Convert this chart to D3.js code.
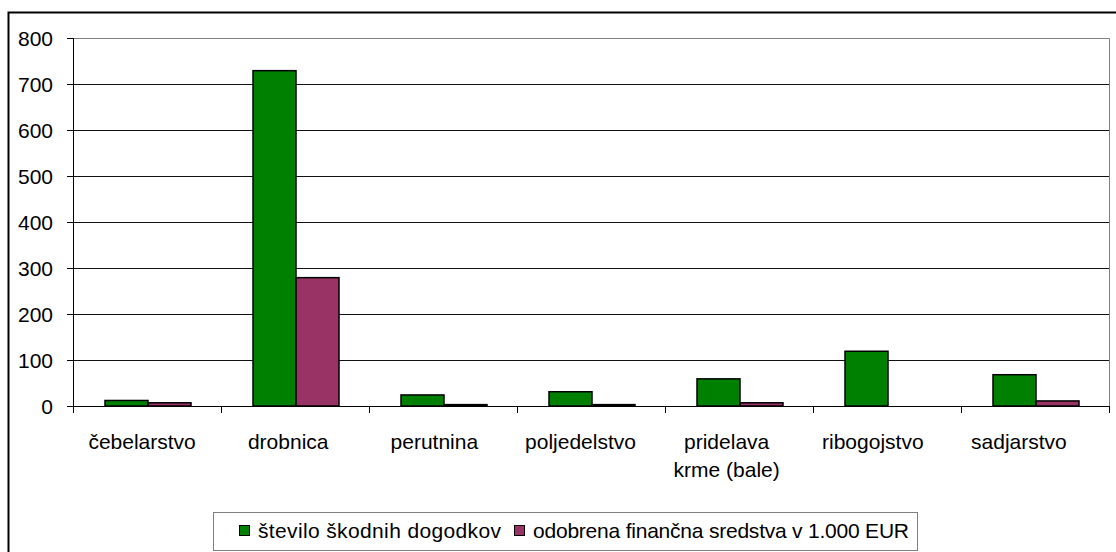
<!DOCTYPE html>
<html>
<head>
<meta charset="utf-8">
<script src="https://cdn.jsdelivr.net/npm/d3@7"></script>
<style>
  body { margin: 0; background: #fff; }
  svg text { font-family: "Liberation Sans", Arial, sans-serif; fill: #000; }
</style>
</head>
<body>
<div id="chart"></div>
<script>
var categories = ["čebelarstvo", "drobnica", "perutnina", "poljedelstvo", "pridelava\nkrme (bale)", "ribogojstvo", "sadjarstvo"];
var seriesNames = ["število škodnih dogodkov", "odobrena finančna sredstva v 1.000 EUR"];
var dogodki = [12, 729, 24, 31, 59, 119, 68];
var sredstva = [7, 279, 3, 3, 7, 0, 11];
var yTicks = [0, 100, 200, 300, 400, 500, 600, 700, 800];
var colors = ["#008000", "#993366"];

var W = 1116, H = 552;
var margin = { top: 38, right: 6, bottom: 146, left: 74 };
var width = W - margin.left - margin.right;
var height = H - margin.top - margin.bottom;

var svg = d3.select("#chart").append("svg")
    .attr("width", W)
    .attr("height", H);

// outer chart border
svg.append("rect")
    .attr("x", 8.5).attr("y", 12.5)
    .attr("width", 1120).attr("height", 560)
    .attr("fill", "none")
    .attr("stroke", "#000")
    .attr("stroke-width", 2);

var g = svg.append("g")
    .attr("transform", "translate(" + margin.left + "," + margin.top + ")");

var x = d3.scaleBand().domain(categories).range([0, width]);
// category labels sit on a slightly tighter spacing than the bars
var xl = d3.scaleBand().domain(categories).range([-5, width - 18]);
var y = d3.scaleLinear().domain([0, 800]).range([height, 0]);
var barW = x.bandwidth() * 43 / 148;
var pad = x.bandwidth() * 31 / 148;

// grid lines
g.selectAll(".grid")
    .data(yTicks.filter(function (d) { return d > 0 && d < 800; }))
    .enter().append("line")
    .attr("x1", 0).attr("x2", width)
    .attr("y1", function (d) { return Math.round(y(d)) + 0.5; })
    .attr("y2", function (d) { return Math.round(y(d)) + 0.5; })
    .attr("stroke", "#111");

// plot area border (top + right)
g.append("path")
    .attr("d", "M0," + (Math.round(y(800)) + 0.5) + "H" + (width - 0.5) + "V" + height)
    .attr("fill", "none")
    .attr("stroke", "#808080");

// bars
var series = [dogodki, sredstva];
series.forEach(function (vals, si) {
    g.selectAll(".bar" + si)
        .data(vals)
        .enter().append("rect")
        .attr("x", function (d, i) { return x(categories[i]) + pad + si * barW; })
        .attr("y", function (d) { return y(d); })
        .attr("width", barW)
        .attr("height", function (d) { return height - y(d); })
        .attr("fill", colors[si])
        .attr("stroke", "#000")
        .attr("stroke-width", 1.5)
        .style("display", function (d) { return d > 0 ? null : "none"; });
});

// y axis
var yAxis = g.append("g")
    .call(d3.axisLeft(y).tickValues(yTicks).tickSize(7).tickPadding(14));
yAxis.select(".domain").attr("stroke", "#000").attr("d", "M-0.5," + height + "V" + y(800));
yAxis.selectAll("line").attr("stroke", "#000");
yAxis.selectAll("text").style("font-size", "21px").attr("dy", "0.36em");

// x axis
var xAxis = g.append("g")
    .attr("transform", "translate(0," + height + ")")
    .call(d3.axisBottom(x).tickSize(0).tickFormat(""));
xAxis.select(".domain").attr("stroke", "#000").attr("d", "M-7,0.5H" + width);
xAxis.selectAll(".tick").remove();

g.selectAll(".xtick")
    .data(d3.range(categories.length + 1))
    .enter().append("line")
    .attr("x1", function (i) { return Math.round(i * x.step()) - 0.5; })
    .attr("x2", function (i) { return Math.round(i * x.step()) - 0.5; })
    .attr("y1", height).attr("y2", height + 7)
    .attr("stroke", "#000");

g.selectAll(".xlabel")
    .data(categories)
    .enter().append("text")
    .attr("text-anchor", "middle")
    .style("font-size", "21px")
    .attr("transform", function (d) { return "translate(" + (xl(d) + xl.bandwidth() / 2) + "," + (height + 43) + ")"; })
    .selectAll("tspan")
    .data(function (d) { return d.split("\n"); })
    .enter().append("tspan")
    .attr("x", 0)
    .attr("dy", function (d, i) { return i === 0 ? 0 : 28; })
    .text(function (d) { return d; });

// legend
var legend = svg.append("g").attr("transform", "translate(213,512)");
legend.append("rect")
    .attr("x", 0.5).attr("y", 0.5)
    .attr("width", 704).attr("height", 38)
    .attr("fill", "#fff")
    .attr("stroke", "#808080");
var lx = [26, 301];
seriesNames.forEach(function (name, i) {
    legend.append("rect")
        .attr("x", lx[i] + 0.5).attr("y", 13.5)
        .attr("width", 10).attr("height", 10)
        .attr("fill", colors[i])
        .attr("stroke", "#000");
    legend.append("text")
        .attr("x", lx[i] + 19).attr("y", 26)
        .style("font-size", "21px")
        .attr("textLength", i === 0 ? 243 : 376)
        .attr("lengthAdjust", "spacing")
        .text(name);
});
</script>
</body>
</html>
